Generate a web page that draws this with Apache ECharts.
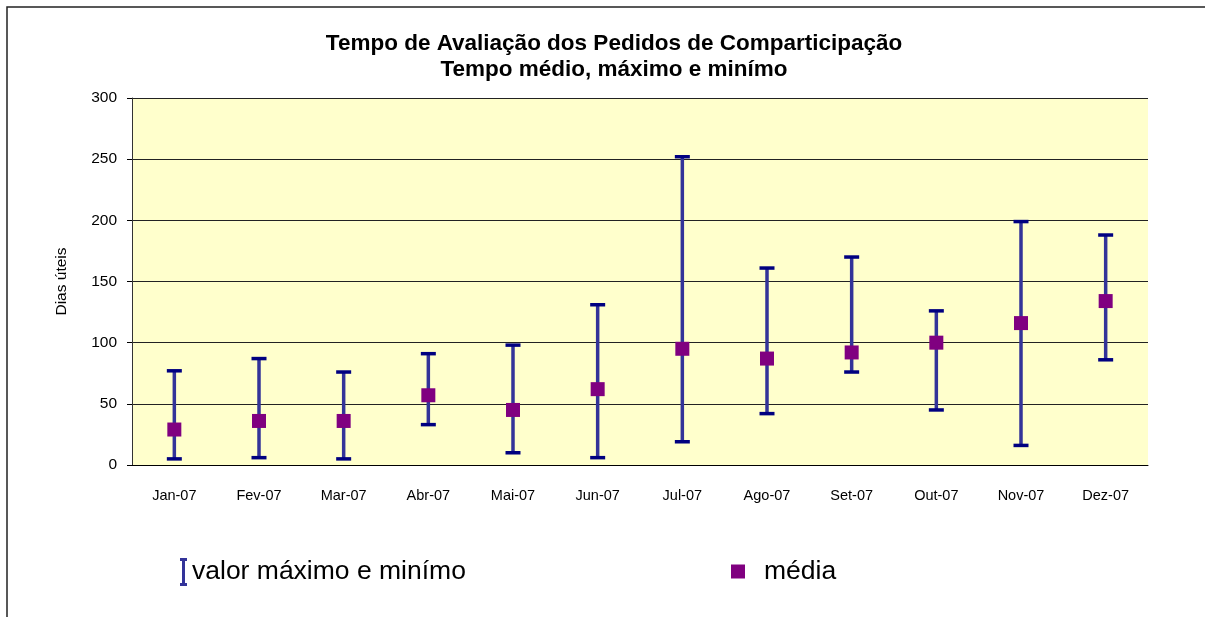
<!DOCTYPE html>
<html>
<head>
<meta charset="utf-8">
<script src="https://cdn.jsdelivr.net/npm/echarts@6/dist/echarts.min.js"></script>
<style>
  html, body { margin: 0; padding: 0; background: #fff; }
  #chart { width: 1205px; height: 617px; }
</style>
</head>
<body>
<div id="chart"></div>
<script>
// dados
var meses = ['Jan-07', 'Fev-07', 'Mar-07', 'Abr-07', 'Mai-07', 'Jun-07', 'Jul-07', 'Ago-07', 'Set-07', 'Out-07', 'Nov-07', 'Dez-07'];
var minimo = [5, 6, 5, 33, 10, 6, 19, 42, 76, 45, 16, 86];
var maximo = [77, 87, 76, 91, 98, 131, 252, 161, 170, 126, 199, 188];
var media = [29, 36, 36, 57, 45, 62, 95, 87, 92, 100, 116, 134];

var fonte = 'Arial, "Liberation Sans", sans-serif';

var barras = meses.map(function (m, i) { return [i, minimo[i], maximo[i]]; });

var chart = echarts.init(document.getElementById('chart'));

var option = {
    animation: false,
    backgroundColor: '#fff',
    textStyle: { fontFamily: fonte },
    title: {
        text: 'Tempo de Avaliação dos Pedidos de Comparticipação\nTempo médio, máximo e minímo',
        left: 609,
        top: 26,
        textAlign: 'center',
        textStyle: { fontFamily: fonte, fontWeight: 'bold', fontSize: 22.5, lineHeight: 26, color: '#000' }
    },
    graphic: [
        { type: 'rect', shape: { x: 7, y: 7, width: 1220, height: 640 }, style: { fill: 'none', stroke: '#222', lineWidth: 1.5 }, silent: true }
    ],
    legend: [
        {
            left: 175, top: 553,
            itemWidth: 7, itemHeight: 28, itemGap: 10,
            data: [{ name: 'valor máximo e minímo', icon: 'path://M0,0H7V3H5V25H7V28H0V25H2V3H0Z' }],
            textStyle: { fontFamily: fonte, fontSize: 26.5, color: '#000', padding: [3, 0, 0, 0] }
        },
        {
            left: 726, top: 553,
            itemWidth: 14, itemHeight: 14, itemGap: 10,
            data: [{ name: 'média', icon: 'rect' }],
            textStyle: { fontFamily: fonte, fontSize: 26.5, color: '#000', padding: [0, 0, 0, 14] }
        }
    ],
    grid: { left: 132, right: 57, top: 98, bottom: 152, show: true, backgroundColor: '#FFFFCC', borderWidth: 0 },
    xAxis: [
        {
            type: 'category',
            data: meses,
            axisLine: { lineStyle: { color: '#000', width: 1 } },
            axisTick: { length: 6, lineStyle: { color: '#000' } },
            axisLabel: { color: '#000', fontSize: 14.5, margin: 23, fontFamily: fonte }
        },
        {
            type: 'category',
            data: meses,
            position: 'bottom',
            axisLine: { show: false },
            axisTick: { inside: true, length: 6, lineStyle: { color: '#000' } },
            axisLabel: { show: false }
        }
    ],
    yAxis: {
        type: 'value',
        min: 0,
        max: 300,
        interval: 50,
        name: 'Dias úteis',
        nameLocation: 'middle',
        nameGap: 62,
        nameTextStyle: { color: '#000', fontSize: 15.5, fontFamily: fonte },
        axisLine: { show: true, lineStyle: { color: '#333', width: 1 } },
        axisTick: { show: true, length: 5, lineStyle: { color: '#000' } },
        axisLabel: { color: '#000', fontSize: 15.5, margin: 15, fontFamily: fonte },
        splitLine: { lineStyle: { color: '#222', width: 1 } }
    },
    series: [
        {
            name: 'valor máximo e minímo',
            type: 'custom',
            itemStyle: { color: '#333399' },
            data: barras,
            z: 3,
            renderItem: function (params, api) {
                var i = api.value(0);
                var baixo = api.coord([i, api.value(1)]);
                var alto = api.coord([i, api.value(2)]);
                var c = 7.5;
                return {
                    type: 'group',
                    children: [
                        { type: 'line', shape: { x1: baixo[0], y1: baixo[1], x2: alto[0], y2: alto[1] }, style: { stroke: '#333399', lineWidth: 3.5 } },
                        { type: 'line', shape: { x1: alto[0] - c, y1: alto[1], x2: alto[0] + c, y2: alto[1] }, style: { stroke: '#000080', lineWidth: 3.5 } },
                        { type: 'line', shape: { x1: baixo[0] - c, y1: baixo[1], x2: baixo[0] + c, y2: baixo[1] }, style: { stroke: '#000080', lineWidth: 3.5 } }
                    ]
                };
            }
        },
        {
            name: 'média',
            type: 'scatter',
            symbol: 'rect',
            symbolSize: 14,
            itemStyle: { color: '#800080', opacity: 1 },
            data: media,
            z: 4
        }
    ]
};

chart.setOption(option);
</script>
</body>
</html>
